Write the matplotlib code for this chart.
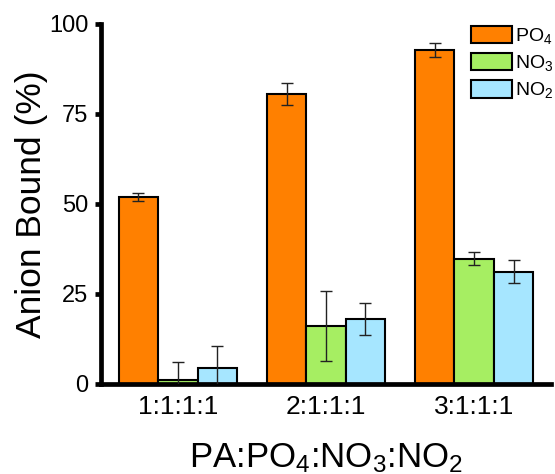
import matplotlib
matplotlib.use("Agg")
import matplotlib.pyplot as plt
import numpy as np

# ratios on the x axis, one group of bars each
groups = ["1:1:1:1", "2:1:1:1", "3:1:1:1"]

# percent of anion bound, with error bar half-widths
po4 = [52.0, 80.6, 92.8]
po4_err = [1.1, 3.0, 1.9]
no3 = [1.1, 16.0, 34.8]
no3_err = [5.0, 9.7, 1.8]
no2 = [4.4, 18.1, 31.2]
no2_err = [6.2, 4.4, 3.2]

names = ["PO$_4$", "NO$_3$", "NO$_2$"]
colors = ["#FF8000", "#A6EE62", "#A6E6FF"]

plt.rcParams["font.family"] = ["Liberation Sans", "DejaVu Sans"]
plt.rcParams["mathtext.default"] = "regular"

fig = plt.figure(figsize=(5.55, 4.74), dpi=100)
ax = fig.add_axes([101 / 555, 90 / 474, 450 / 555, 360 / 474])

x = np.arange(len(groups))
w = 0.2667
series = [(po4, po4_err), (no3, no3_err), (no2, no2_err)]
for i, ((vals, errs), name, col) in enumerate(zip(series, names, colors)):
    ax.bar(x + (i - 1) * w, vals, w, color=col, edgecolor="black", linewidth=1.5,
           label=name, zorder=2,
           yerr=errs, error_kw=dict(ecolor="#222222", elinewidth=1.0, capsize=4, capthick=1.0, zorder=3))

ax.set_xlim(-0.52, 2.52)
ax.set_ylim(0, 100)
ax.set_yticks([0, 25, 50, 75, 100])
ax.set_xticks(x)
ax.set_xticklabels(groups)

for side in ["top", "right"]:
    ax.spines[side].set_visible(False)
for side in ["left", "bottom"]:
    ax.spines[side].set_linewidth(3.4)

ax.tick_params(axis="y", direction="out", length=4, width=3.4, labelsize=17, pad=5)
ax.tick_params(axis="x", length=0, labelsize=19, pad=8)

ax.set_ylabel("Anion Bound (%)", fontsize=25.5, labelpad=1)
ax.set_xlabel("PA:PO$_4$:NO$_3$:NO$_2$", fontsize=25, labelpad=16)

ax.legend(loc="upper left", bbox_to_anchor=(0.822, 0.995), frameon=False, fontsize=14,
          handlelength=2.1, handleheight=1.0, handletextpad=0.15, labelspacing=0.35,
          borderpad=0, borderaxespad=0)

plt.savefig("out.png", dpi=100)
